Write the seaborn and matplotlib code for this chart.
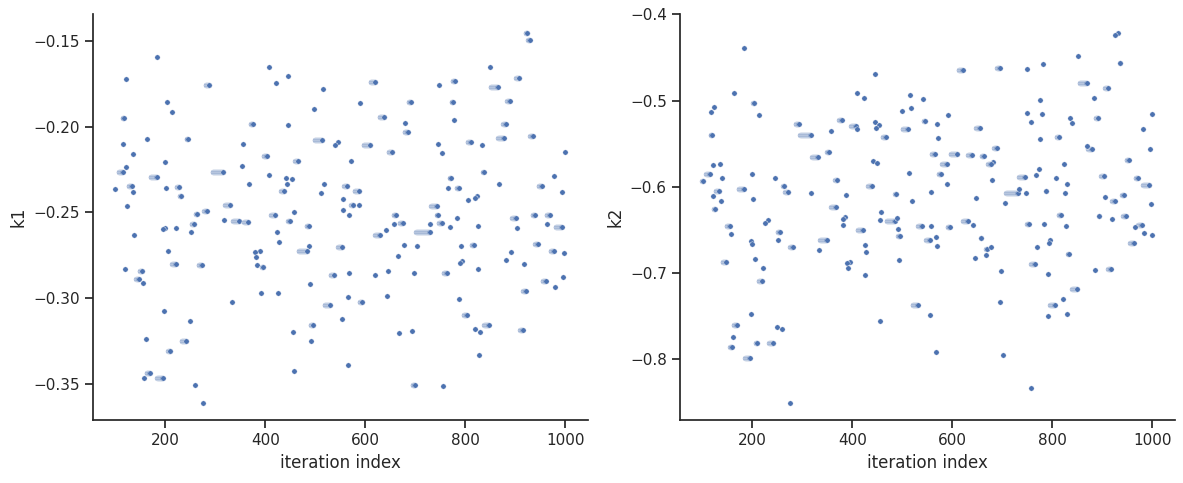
import numpy as np
import pandas as pd
import matplotlib
matplotlib.use("Agg")
import matplotlib.pyplot as plt
import seaborn as sns

# Each visible mark on the trace: last iteration it covers, its value, and how many
# consecutive iterations the chain stayed there (the elongated marks).
k1_iter = [183, 121, 204, 213, 117, 163, 245, 115, 135, 200, 121, 115, 183, 133, 100,
           136, 202, 228, 232, 124, 264, 258, 199, 196, 222, 252, 137, 206, 221, 119,
           154, 147, 155, 197, 249, 161, 242, 210, 169, 157, 195, 260,
           408, 445, 422, 288, 375, 445, 356, 403, 354, 316, 408, 441, 444, 368, 438,
           330, 283, 318, 348, 366, 420, 424, 427, 390, 380, 381, 273, 383, 396, 392,
           425, 334, 276,
           516, 620, 590, 498, 514, 546, 540, 610, 466, 571, 454, 518, 512, 564, 588,
           576, 588, 556, 556, 568, 458, 449, 487, 488, 484, 554, 538, 568, 620, 490,
           566, 594, 530, 554, 496, 456, 492, 566, 457,
           747, 779, 691, 775, 638, 680, 685, 777, 745, 753, 654, 771, 765, 787, 805,
           743, 745, 661, 675, 657, 753, 729, 769, 783, 641, 729, 629, 677, 703, 665,
           791, 793, 789, 646, 697, 763, 643, 787, 803, 668, 693, 699, 755,
           924, 929, 849, 908, 865, 889, 881, 811, 833, 877, 935, 999, 837, 867, 977,
           953, 994, 823, 820, 901, 939, 969, 993, 963, 903, 825, 817, 945, 892, 977,
           997, 882, 917, 825, 961, 996, 979, 921, 819, 847, 830, 915, 827]
k1_value = [-0.1593, -0.1724, -0.1858, -0.1916, -0.1951, -0.2074, -0.2074, -0.2103, -0.2161,
            -0.2208, -0.2237, -0.2261, -0.2295, -0.2348, -0.2365, -0.2383, -0.2360, -0.2354,
            -0.2401, -0.2465, -0.2506, -0.2570, -0.2593, -0.2599, -0.2593, -0.2611, -0.2634,
            -0.2722, -0.2803, -0.2827, -0.2844, -0.2891, -0.2914, -0.3077, -0.3136, -0.3241,
            -0.3247, -0.3311, -0.3439, -0.3463, -0.3463, -0.3509,
            -0.1654, -0.1706, -0.1747, -0.1759, -0.1986, -0.1992, -0.2103, -0.2173, -0.2231,
            -0.2266, -0.2284, -0.2296, -0.2331, -0.2331, -0.2372, -0.2459, -0.2494, -0.2541,
            -0.2547, -0.2558, -0.2512, -0.2611, -0.2675, -0.2727, -0.2733, -0.2757, -0.2809,
            -0.2809, -0.2821, -0.2967, -0.2967, -0.3025, -0.3614,
            -0.1782, -0.1741, -0.1864, -0.1899, -0.2080, -0.2091, -0.2109, -0.2109, -0.2202,
            -0.2202, -0.2307, -0.2331, -0.2389, -0.2348, -0.2372, -0.2459, -0.2459, -0.2424,
            -0.2488, -0.2512, -0.2500, -0.2547, -0.2576, -0.2698, -0.2727, -0.2704, -0.2862,
            -0.2856, -0.2862, -0.2920, -0.2996, -0.3025, -0.3042, -0.3124, -0.3159, -0.3200,
            -0.3247, -0.3387, -0.3422,
            -0.1759, -0.1730, -0.1858, -0.1858, -0.1940, -0.1980, -0.2033, -0.1963, -0.2103,
            -0.2155, -0.2150, -0.2296, -0.2360, -0.2360, -0.2430, -0.2465, -0.2512, -0.2512,
            -0.2559, -0.2570, -0.2564, -0.2570, -0.2582, -0.2530, -0.2605, -0.2611, -0.2634,
            -0.2687, -0.2698, -0.2751, -0.2698, -0.2786, -0.2792, -0.2844, -0.2856, -0.2856,
            -0.2990, -0.3007, -0.3101, -0.3206, -0.3194, -0.3509, -0.3515,
            -0.1455, -0.1496, -0.1654, -0.1718, -0.1770, -0.1852, -0.1986, -0.2086, -0.2109,
            -0.2068, -0.2056, -0.2150, -0.2266, -0.2331, -0.2290, -0.2348, -0.2383, -0.2401,
            -0.2418, -0.2535, -0.2517, -0.2517, -0.2582, -0.2570, -0.2593, -0.2576, -0.2687,
            -0.2681, -0.2733, -0.2727, -0.2739, -0.2780, -0.2803, -0.2832, -0.2897, -0.2879,
            -0.2937, -0.2961, -0.3177, -0.3159, -0.3200, -0.3183, -0.3334]
k1_count = [1, 1, 1, 1, 3, 1, 3, 1, 1, 1, 1, 9, 13, 7, 1, 1, 1, 6, 4, 1, 4, 6, 1, 1, 1, 1,
            1, 1, 8, 1, 6, 6, 1, 1, 1, 1, 10, 5, 7, 1, 12, 1,
            1, 1, 1, 8, 5, 1, 1, 7, 1, 22, 1, 1, 1, 1, 7, 11, 6, 1, 13, 9, 9, 1, 1, 1, 1,
            1, 7, 1, 4, 1, 1, 1, 1,
            1, 10, 1, 1, 16, 1, 1, 14, 7, 1, 1, 1, 1, 7, 10, 5, 1, 1, 1, 1, 1, 4, 5, 1, 18,
            9, 8, 1, 1, 1, 1, 6, 12, 1, 6, 1, 1, 1, 1,
            1, 5, 5, 3, 10, 1, 7, 1, 1, 1, 8, 3, 1, 5, 1, 12, 2, 5, 7, 1, 7, 1, 1, 1, 1, 28,
            10, 1, 1, 1, 1, 1, 1, 1, 1, 7, 1, 1, 7, 1, 1, 5, 1,
            4, 4, 1, 7, 15, 6, 6, 7, 1, 12, 6, 1, 2, 1, 1, 7, 1, 1, 1, 8, 5, 7, 13, 1, 1, 1,
            5, 6, 1, 7, 1, 1, 1, 1, 7, 1, 1, 6, 1, 10, 1, 6, 1]

k2_iter = [183, 163, 204, 123, 117, 213, 119, 121, 135, 115, 200, 246, 102, 140, 183, 134,
           121, 137, 202, 264, 272, 126, 231, 226, 155, 255, 157, 197, 199, 252, 148, 206,
           222, 220, 197, 169, 250, 260, 161, 159, 210, 242, 195, 275,
           446, 409, 423, 293, 317, 357, 379, 407, 409, 445, 454, 447, 331, 353, 442, 450,
           370, 318, 439, 388, 367, 385, 381, 381, 421, 458, 456, 349, 281, 333, 426, 428,
           396, 389, 392, 425, 456,
           621, 515, 541, 499, 517, 591, 546, 569, 511, 467, 572, 565, 610, 513, 589, 577,
           589, 488, 557, 519, 485, 489, 491, 495, 539, 557, 595, 631, 555, 567, 569, 493,
           531, 555, 567,
           695, 749, 782, 776, 749, 779, 757, 655, 775, 814, 689, 639, 663, 681, 677, 680,
           745, 773, 768, 807, 731, 733, 747, 788, 647, 705, 817, 642, 658, 670, 678, 645,
           667, 753, 784, 796, 793, 770, 698, 765, 791, 696, 805, 791, 702, 757,
           932, 925, 852, 936, 869, 912, 883, 1000, 836, 840, 892, 981, 879, 869, 996, 823,
           953, 904, 829, 971, 994, 826, 905, 925, 943, 998, 827, 894, 919, 947, 979, 965,
           983, 999, 963, 833, 886, 917, 850, 821, 830]
k2_value = [-0.4388, -0.4911, -0.5027, -0.5074, -0.5132, -0.5167, -0.5399, -0.5748, -0.5736,
            -0.5853, -0.5853, -0.5899, -0.5934, -0.5899, -0.6027, -0.6050, -0.6109, -0.6167,
            -0.6143, -0.5992, -0.6062, -0.6260, -0.6388, -0.6423, -0.6457, -0.6527, -0.6550,
            -0.6632, -0.6667, -0.6620, -0.6876, -0.6841, -0.6946, -0.7097, -0.7481, -0.7609,
            -0.7632, -0.7655, -0.7748, -0.7864, -0.7818, -0.7818, -0.7992, -0.8516,
            -0.4690, -0.4911, -0.4969, -0.5271, -0.5399, -0.5353, -0.5225, -0.5295, -0.5330,
            -0.5248, -0.5283, -0.5318, -0.5655, -0.5597, -0.5701, -0.5725, -0.5923, -0.6074,
            -0.5992, -0.6097, -0.6237, -0.6353, -0.6376, -0.6446, -0.6504, -0.6295, -0.6388,
            -0.6620, -0.6702, -0.6737, -0.6678, -0.6760, -0.6876, -0.6888, -0.6946, -0.7027,
            -0.7562,
            -0.4643, -0.4934, -0.4981, -0.5120, -0.5085, -0.5167, -0.5237, -0.5271, -0.5330,
            -0.5423, -0.5434, -0.5620, -0.5620, -0.5841, -0.5737, -0.5853, -0.5969, -0.6085,
            -0.6062, -0.6167, -0.6399, -0.6364, -0.6492, -0.6574, -0.6457, -0.6457, -0.6469,
            -0.6399, -0.6620, -0.6585, -0.6690, -0.6853, -0.7376, -0.7492, -0.7922,
            -0.4620, -0.4632, -0.4574, -0.4992, -0.5143, -0.5155, -0.5248, -0.5318, -0.5446,
            -0.5422, -0.5550, -0.5632, -0.5644, -0.5713, -0.5737, -0.5923, -0.5888, -0.5795,
            -0.5864, -0.5899, -0.6074, -0.6027, -0.6074, -0.6050, -0.6132, -0.6190, -0.6330,
            -0.6446, -0.6597, -0.6725, -0.6702, -0.6829, -0.6795, -0.6434, -0.6434, -0.6620,
            -0.6655, -0.6702, -0.6981, -0.6899, -0.7016, -0.7341, -0.7376, -0.7504, -0.7957,
            -0.8341,
            -0.4213, -0.4236, -0.4481, -0.4562, -0.4795, -0.4853, -0.4969, -0.5155, -0.5202,
            -0.5260, -0.5202, -0.5330, -0.5562, -0.5527, -0.5562, -0.5737, -0.5690, -0.5876,
            -0.5969, -0.5899, -0.5981, -0.6074, -0.6120, -0.6167, -0.6097, -0.6202, -0.6457,
            -0.6341, -0.6376, -0.6341, -0.6446, -0.6469, -0.6539, -0.6562, -0.6655, -0.6783,
            -0.6969, -0.6957, -0.7190, -0.7306, -0.7481]
k2_count = [1, 1, 3, 1, 1, 1, 3, 1, 1, 8, 1, 1, 3, 1, 11, 8, 1, 1, 1, 3, 7, 4, 1, 1, 7, 5,
            1, 1, 1, 1, 8, 1, 1, 8, 1, 7, 1, 1, 1, 4, 4, 9, 10, 1,
            1, 1, 1, 7, 22, 1, 6, 10, 1, 1, 1, 1, 12, 4, 1, 1, 5, 1, 8, 1, 10, 1, 1, 1, 11,
            1, 1, 14, 6, 1, 1, 1, 1, 1, 1, 1, 1,
            9, 1, 1, 1, 1, 1, 4, 1, 11, 7, 1, 7, 14, 1, 10, 5, 1, 3, 1, 1, 17, 1, 1, 4, 8,
            1, 5, 10, 8, 1, 1, 1, 11, 1, 1,
            6, 1, 1, 1, 1, 1, 1, 8, 1, 6, 6, 8, 5, 1, 6, 1, 12, 1, 1, 1, 24, 1, 1, 2, 1, 1,
            5, 1, 2, 3, 1, 1, 1, 4, 1, 1, 1, 1, 1, 8, 1, 1, 10, 1, 1, 1,
            1, 1, 1, 2, 15, 7, 1, 1, 1, 1, 6, 1, 8, 1, 1, 1, 5, 7, 1, 5, 13, 1, 1, 6, 4, 1,
            1, 2, 1, 6, 8, 1, 1, 1, 8, 2, 1, 6, 11, 1, 1]


def expand(ends, values, counts, name):
    rows = []
    for end, v, n in zip(ends, values, counts):
        for it in range(end - n + 1, end + 1):
            rows.append((it, v))
    return pd.DataFrame(rows, columns=["iteration index", name])


sns.set_theme(style="ticks")
fig, axes = plt.subplots(1, 2, figsize=(11.83, 4.83), dpi=100)
fig.subplots_adjust(left=0.0786, right=0.9932, top=0.971, bottom=0.130, wspace=0.186)

df1 = expand(k1_iter, k1_value, k1_count, "k1")
df2 = expand(k2_iter, k2_value, k2_count, "k2")

sns.scatterplot(data=df1, x="iteration index", y="k1", ax=axes[0], s=15)
sns.scatterplot(data=df2, x="iteration index", y="k2", ax=axes[1], s=15)

axes[0].set_xlim(55, 1045)
axes[1].set_xlim(55, 1045)
axes[0].set_ylim(-0.3712, -0.1342)
axes[1].set_ylim(-0.871, -0.3995)
axes[0].set_yticks([-0.35, -0.30, -0.25, -0.20, -0.15])
axes[1].set_yticks([-0.8, -0.7, -0.6, -0.5, -0.4])

sns.despine(fig)
fig.savefig("out.png")
